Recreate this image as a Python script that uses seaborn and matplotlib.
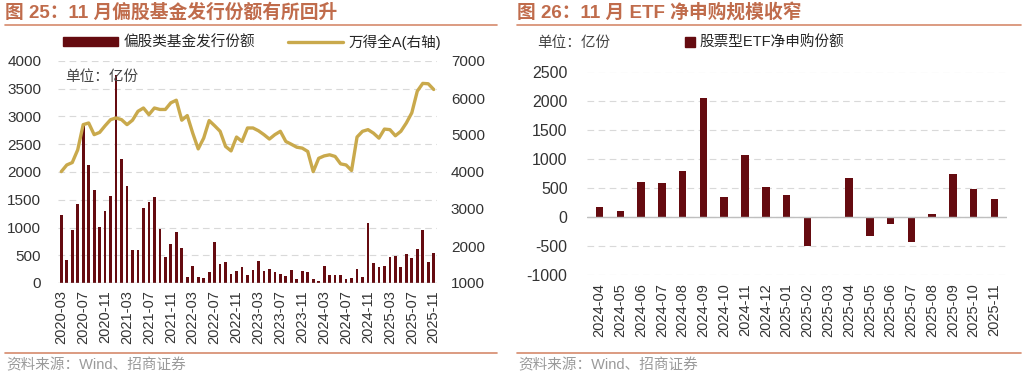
import numpy as np
import pandas as pd
import seaborn as sns
import matplotlib.pyplot as plt
from matplotlib.lines import Line2D
from matplotlib.patches import Patch

# === ДАННЫЕ ===
fund_months = pd.period_range("2020-03", "2025-11", freq="M").strftime("%Y-%m").tolist()
fund_issue = [
    1220, 420, 950, 1430, 2870, 2120, 1670, 1015, 1290, 1565,
    3750, 2240, 1745, 590, 590, 1360, 1460, 1550, 970, 470, 710, 920,
    635, 100, 300, 100, 85, 190, 745, 345, 375, 170, 210, 295,
    150, 235, 395, 225, 255, 195, 165, 135, 240, 75, 225, 190,
    75, 45, 310, 140, 140, 145, 75, 90, 260, 115, 1080, 355,
    285, 310, 475, 490, 295, 515, 445, 615, 950, 380, 540,
]
wind_a = [
    4010, 4190, 4255, 4600, 5280, 5325, 5010, 5070, 5250, 5415,
    5460, 5415, 5280, 5400, 5640, 5730, 5550, 5730, 5690, 5690, 5870, 5940,
    5400, 5525, 5050, 4625, 4915, 5390, 5250, 5100, 4690, 4570, 4945, 4825,
    5190, 5190, 5115, 5010, 4890, 5010, 5100, 4825, 4750, 4670, 4645, 4555,
    4010, 4370, 4435, 4465, 4420, 4220, 4190, 4040, 4945, 5100, 5145, 5050,
    4915, 5160, 5145, 4980, 5100, 5325, 5600, 6185, 6395, 6385, 6230,
]
fund_ticks = fund_months[::4]

etf_months = pd.period_range("2024-04", "2025-11", freq="M").strftime("%Y-%m").tolist()
etf_net = [172, 103, 592, 586, 793, 2052, 333, 1057, 517, 368,
           -506, 0, 661, -328, -126, -437, 57, 736, 471, 299]

BAR_C = "#650B10"
LINE_C = "#C9A94C"
TITLE_C = "#C06C4C"
RULE_C = "#D58A6C"
GRID_C = "#D9D9D9"

sns.set_style("white")
plt.rcParams['font.family'] = ['Liberation Sans', 'Noto Sans CJK SC']
plt.rcParams['axes.unicode_minus'] = False

fig = plt.figure(figsize=(10.24, 3.76), dpi=100)

# --- левый график ---
ax1 = fig.add_axes([58 / 1024, 93 / 376, 379 / 1024, 222 / 376])
df1 = pd.DataFrame({"month": fund_months, "issue": fund_issue})
sns.barplot(data=df1, x="month", y="issue", color=BAR_C, saturation=1,
            width=0.5, linewidth=0, ax=ax1)
ax1.set_ylim(0, 4000)
ax1.set_yticks(np.arange(0, 4001, 500))
ax1.set_xlim(-0.6, len(fund_months) - 0.4)
ax1.set_xticks(range(0, len(fund_months), 4))
ax1.set_xticklabels(fund_ticks, rotation=90)
ax1.set_xlabel("")
ax1.set_ylabel("")
ax1.yaxis.grid(True, ls=(0, (6, 4)), color=GRID_C, lw=0.8)
ax1.set_axisbelow(True)
for s in ax1.spines.values():
    s.set_visible(False)
ax1.axhline(0, color="#BFBFBF", lw=1)
ax1.tick_params(axis="y", length=0, labelsize=11, colors="#333333", pad=12)
ax1.tick_params(axis="x", length=3, color="#BFBFBF", labelsize=10.5, colors="#333333", pad=2)

ax2 = ax1.twinx()
sns.lineplot(x=np.arange(len(wind_a)), y=wind_a, color=LINE_C, lw=2.4, ax=ax2)
ax2.set_ylim(1000, 7000)
ax2.set_yticks(np.arange(1000, 7001, 1000))
for s in ax2.spines.values():
    s.set_visible(False)
ax2.tick_params(axis="y", length=0, labelsize=11, colors="#333333", pad=10)
ax2.set_ylabel("")

ax1.text(0.02, 0.93, "单位：亿份", transform=ax1.transAxes, fontsize=10.5,
         color="#444444", va="center")

handles = [Patch(color=BAR_C), Line2D([0], [0], color=LINE_C, lw=2.4)]
fig.legend(handles, ["偏股类基金发行份额", "万得全A(右轴)"], ncol=2,
           loc="center", bbox_to_anchor=(252 / 1024, 1 - 42 / 376), frameon=False,
           fontsize=10.5, handlelength=3.8, handleheight=0.6, columnspacing=2.2,
           handletextpad=0.4)

# --- правый график ---
ax3 = fig.add_axes([587 / 1024, 101 / 376, 420 / 1024, 203.5 / 376])
df3 = pd.DataFrame({"month": etf_months, "net": etf_net})
sns.barplot(data=df3, x="month", y="net", color=BAR_C, saturation=1,
            width=0.36, linewidth=0, ax=ax3)
ax3.set_ylim(-1000, 2500)
ax3.set_yticks(np.arange(-1000, 2501, 500))
ax3.set_xlim(-0.6, len(etf_months) - 0.4)
ax3.set_xticks(range(len(etf_months)))
ax3.set_xticklabels(etf_months, rotation=90)
ax3.set_xlabel("")
ax3.set_ylabel("")
ax3.yaxis.grid(True, ls=(0, (6, 4)), color=GRID_C, lw=0.8)
ax3.set_axisbelow(True)
for s in ax3.spines.values():
    s.set_visible(False)
ax3.axhline(0, color="#BFBFBF", lw=1)
ax3.tick_params(axis="y", length=0, labelsize=11.5, colors="#333333", pad=14)
ax3.tick_params(axis="x", length=0, labelsize=10.5, colors="#333333", pad=6)

fig.text(537 / 1024, 1 - 43 / 376, "单位：亿份", fontsize=10.5, color="#444444", va="center")
fig.legend([Patch(color=BAR_C)], ["股票型ETF净申购份额"], loc="center left",
           bbox_to_anchor=(672 / 1024, 1 - 43 / 376), frameon=False, fontsize=10.5,
           handlelength=0.7, handleheight=0.7, handletextpad=0.3)

# --- заголовки, линии, источники ---
fig.text(5 / 1024, 1 - 12 / 376, "图 25：11 月偏股基金发行份额有所回升",
         fontsize=13.5, fontweight="bold", color=TITLE_C, va="center")
fig.text(517 / 1024, 1 - 12 / 376, "图 26：11 月 ETF 净申购规模收窄",
         fontsize=13.5, fontweight="bold", color=TITLE_C, va="center")
for x0, x1 in [(5, 497), (517, 1021)]:
    for y in (25, 353):
        fig.add_artist(Line2D([x0 / 1024, x1 / 1024], [1 - y / 376, 1 - y / 376],
                              color=RULE_C, lw=1.2))
    fig.text((x0 + 1) / 1024, 1 - 365 / 376, "资料来源：Wind、招商证券",
             fontsize=10.5, color="#9A9A9A", va="center")

plt.savefig("out.png", dpi=100)
